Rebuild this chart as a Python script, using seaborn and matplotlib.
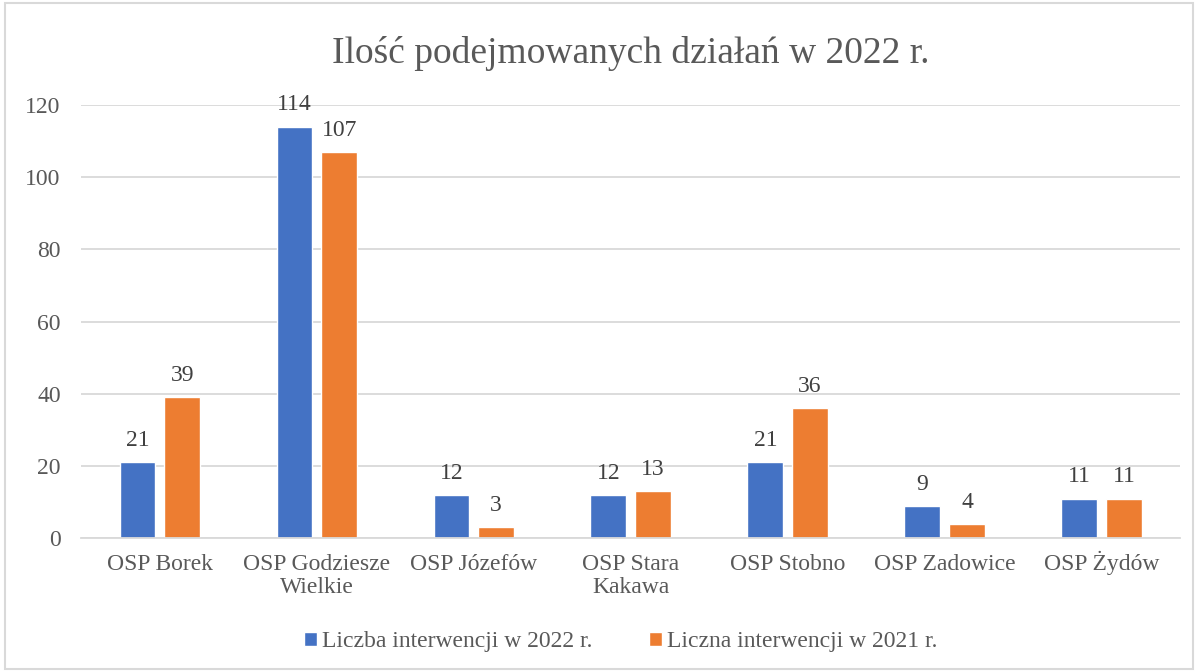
import pandas as pd
import seaborn as sns
import matplotlib.pyplot as plt
from matplotlib.patches import Rectangle
from matplotlib.transforms import ScaledTranslation

# dane
categories = ['OSP Borek', 'OSP Godziesze\nWielkie', 'OSP Józefów', 'OSP Stara\nKakawa',
              'OSP Stobno', 'OSP Zadowice', 'OSP Żydów']
series_2022 = [21, 114, 12, 12, 21, 9, 11]
series_2021 = [39, 107, 3, 13, 36, 4, 11]
label_2022 = 'Liczba interwencji w 2022 r.'
label_2021 = 'Liczna interwencji w 2021 r.'
yticks = [0, 20, 40, 60, 80, 100, 120]

df = pd.DataFrame({
    'Jednostka': categories * 2,
    'Wartość': series_2022 + series_2021,
    'Seria': [label_2022] * len(categories) + [label_2021] * len(categories),
})

sns.set_theme(style='white')
plt.rcParams['font.family'] = ['Liberation Serif', 'DejaVu Serif']
txt = '#595959'
fs = 17

fig = plt.figure(figsize=(11.98, 6.72), dpi=100)
ax = fig.add_axes([0.068, 0.199, 0.917, 0.645])

sns.barplot(data=df, x='Jednostka', y='Wartość', hue='Seria',
            palette=['#4472C4', '#ED7D31'], width=0.57, gap=0.2,
            saturation=1, ax=ax, legend=True)

ax.set_ylim(0, 120)
ax.set_yticks(yticks)
ax.set_xlim(-0.5, len(categories) - 0.5)
ax.yaxis.grid(True, color='#D9D9D9', linewidth=1.3)
ax.set_axisbelow(True)
for s in ['left', 'right', 'top']:
    ax.spines[s].set_visible(False)
ax.spines['bottom'].set_color('#D9D9D9')
ax.spines['bottom'].set_linewidth(1.3)
ax.tick_params(axis='y', colors=txt, labelsize=fs, length=0, pad=15)
ax.tick_params(axis='x', colors=txt, labelsize=fs, length=0, pad=11)
for lbl in ax.get_xticklabels():
    lbl.set_linespacing(1.15)
    if 'Ż' in lbl.get_text():
        # kropka nad Ż przesuwa etykietę w dół
        lbl.set_transform(lbl.get_transform() + ScaledTranslation(0, 2.3 / 72, fig.dpi_scale_trans))
ax.set_xlabel('')
ax.set_ylabel('')

for c in ax.containers:
    ax.bar_label(c, padding=8, fontsize=fs, color='#404040')

ax.set_title('Ilość podejmowanych działań w 2022 r.', fontsize=27, color=txt, pad=30)

leg = ax.legend(loc='upper center', bbox_to_anchor=(0.491, -0.165), ncol=2, frameon=False,
                fontsize=fs, handlelength=0.55, handleheight=0.55, handletextpad=0.2,
                columnspacing=2.4)
for t in leg.get_texts():
    t.set_color(txt)

fig.patches.append(Rectangle((0.004, 0.004), 0.992, 0.992, transform=fig.transFigure,
                             fill=False, edgecolor='#D9D9D9', linewidth=1.5))

fig.savefig('out.png', dpi=100)
